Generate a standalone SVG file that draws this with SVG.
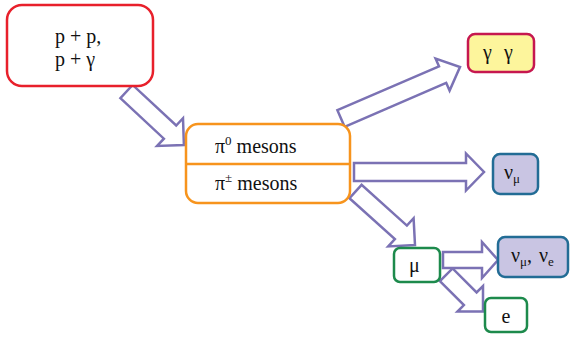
<svg xmlns="http://www.w3.org/2000/svg" width="570" height="338" viewBox="0 0 570 338">
<style>
.arrow{fill:#ffffff;stroke:#7b72b4;stroke-width:2.5;stroke-linejoin:miter}
.box{stroke-width:2.5}
.t{font-family:'Liberation Serif','DejaVu Serif','Times New Roman',serif;font-size:20px;fill:#111111}
.sub{font-size:13px}
</style>
<rect width="570" height="338" fill="#ffffff"/>
<g id="connectors">
<polygon class="arrow" points="120.4,98.1 163.9,138.7 157.1,146 183.9,145 183,118.2 176.2,125.5 132.6,84.9"/>
<polygon class="arrow" points="344.6,126.8 446.2,82.8 449.6,90.6 460,67 435.6,58.5 439,66.3 337.4,110.2"/>
<polygon class="arrow" points="354,163 466,163 466,153.5 484,172 466,190.5 466,181 354,181"/>
<polygon class="arrow" points="349.5,198.2 394.9,239 388.2,246.4 415,245 413.6,218.2 406.9,225.6 361.6,184.8"/>
<polygon class="arrow" points="439.9,281.1 463.9,305.1 457.5,311.5 483,311.5 483,286 476.6,292.4 452.6,268.4"/>
<polygon class="arrow" points="443,252 482,252 482,242 498,260 482,278 482,268 443,268"/>
</g>
<g id="source">
<rect class="box" x="7" y="5" width="146" height="81" rx="15" fill="#ffffff" stroke="#e8202b"/>
<text class="t" x="55" y="43" font-family="Liberation Serif, serif">p + p,</text>
<text class="t" x="55" y="66" font-family="Liberation Serif, serif">p + γ</text>
</g>
<g id="pions">
<rect class="box" x="186" y="124" width="164" height="79" rx="12" fill="#ffffff" stroke="#f7941d"/>
<line x1="186" y1="164" x2="350" y2="164" stroke="#f7941d" stroke-width="2.5"/>
<text class="t" x="215" y="153">π<tspan class="sub" dy="-8">0</tspan><tspan dy="8"> mesons</tspan></text>
<text class="t" x="215" y="190">π<tspan class="sub" dy="-8">±</tspan><tspan dy="8"> mesons</tspan></text>
</g>
<g id="gamma">
<rect class="box" x="468" y="34" width="66" height="38" rx="7" fill="#fdf59c" stroke="#c6174f"/>
<text class="t" x="483" y="59">γ<tspan x="504">γ</tspan></text>
</g>
<g id="numu">
<rect class="box" x="493" y="154" width="45" height="40" rx="7" fill="#c9c5e3" stroke="#226c95"/>
<text class="t" x="504" y="179">ν<tspan class="sub" dy="4">μ</tspan></text>
</g>
<g id="muon">
<rect class="box" x="394" y="248" width="46" height="34" rx="6" fill="#ffffff" stroke="#1d8a4c"/>
<text class="t" x="409" y="272">μ</text>
</g>
<g id="neutrinos">
<rect class="box" x="498" y="237" width="70" height="40" rx="7" fill="#c9c5e3" stroke="#226c95"/>
<text class="t" x="511" y="262">ν<tspan class="sub" dy="4">μ</tspan><tspan dy="-4">, </tspan><tspan x="539">ν</tspan><tspan class="sub" dy="4">e</tspan></text>
</g>
<g id="electron">
<rect class="box" x="485" y="298" width="42" height="34" rx="6" fill="#ffffff" stroke="#1d8a4c"/>
<text class="t" x="506" y="323" text-anchor="middle">e</text>
</g>
</svg>
